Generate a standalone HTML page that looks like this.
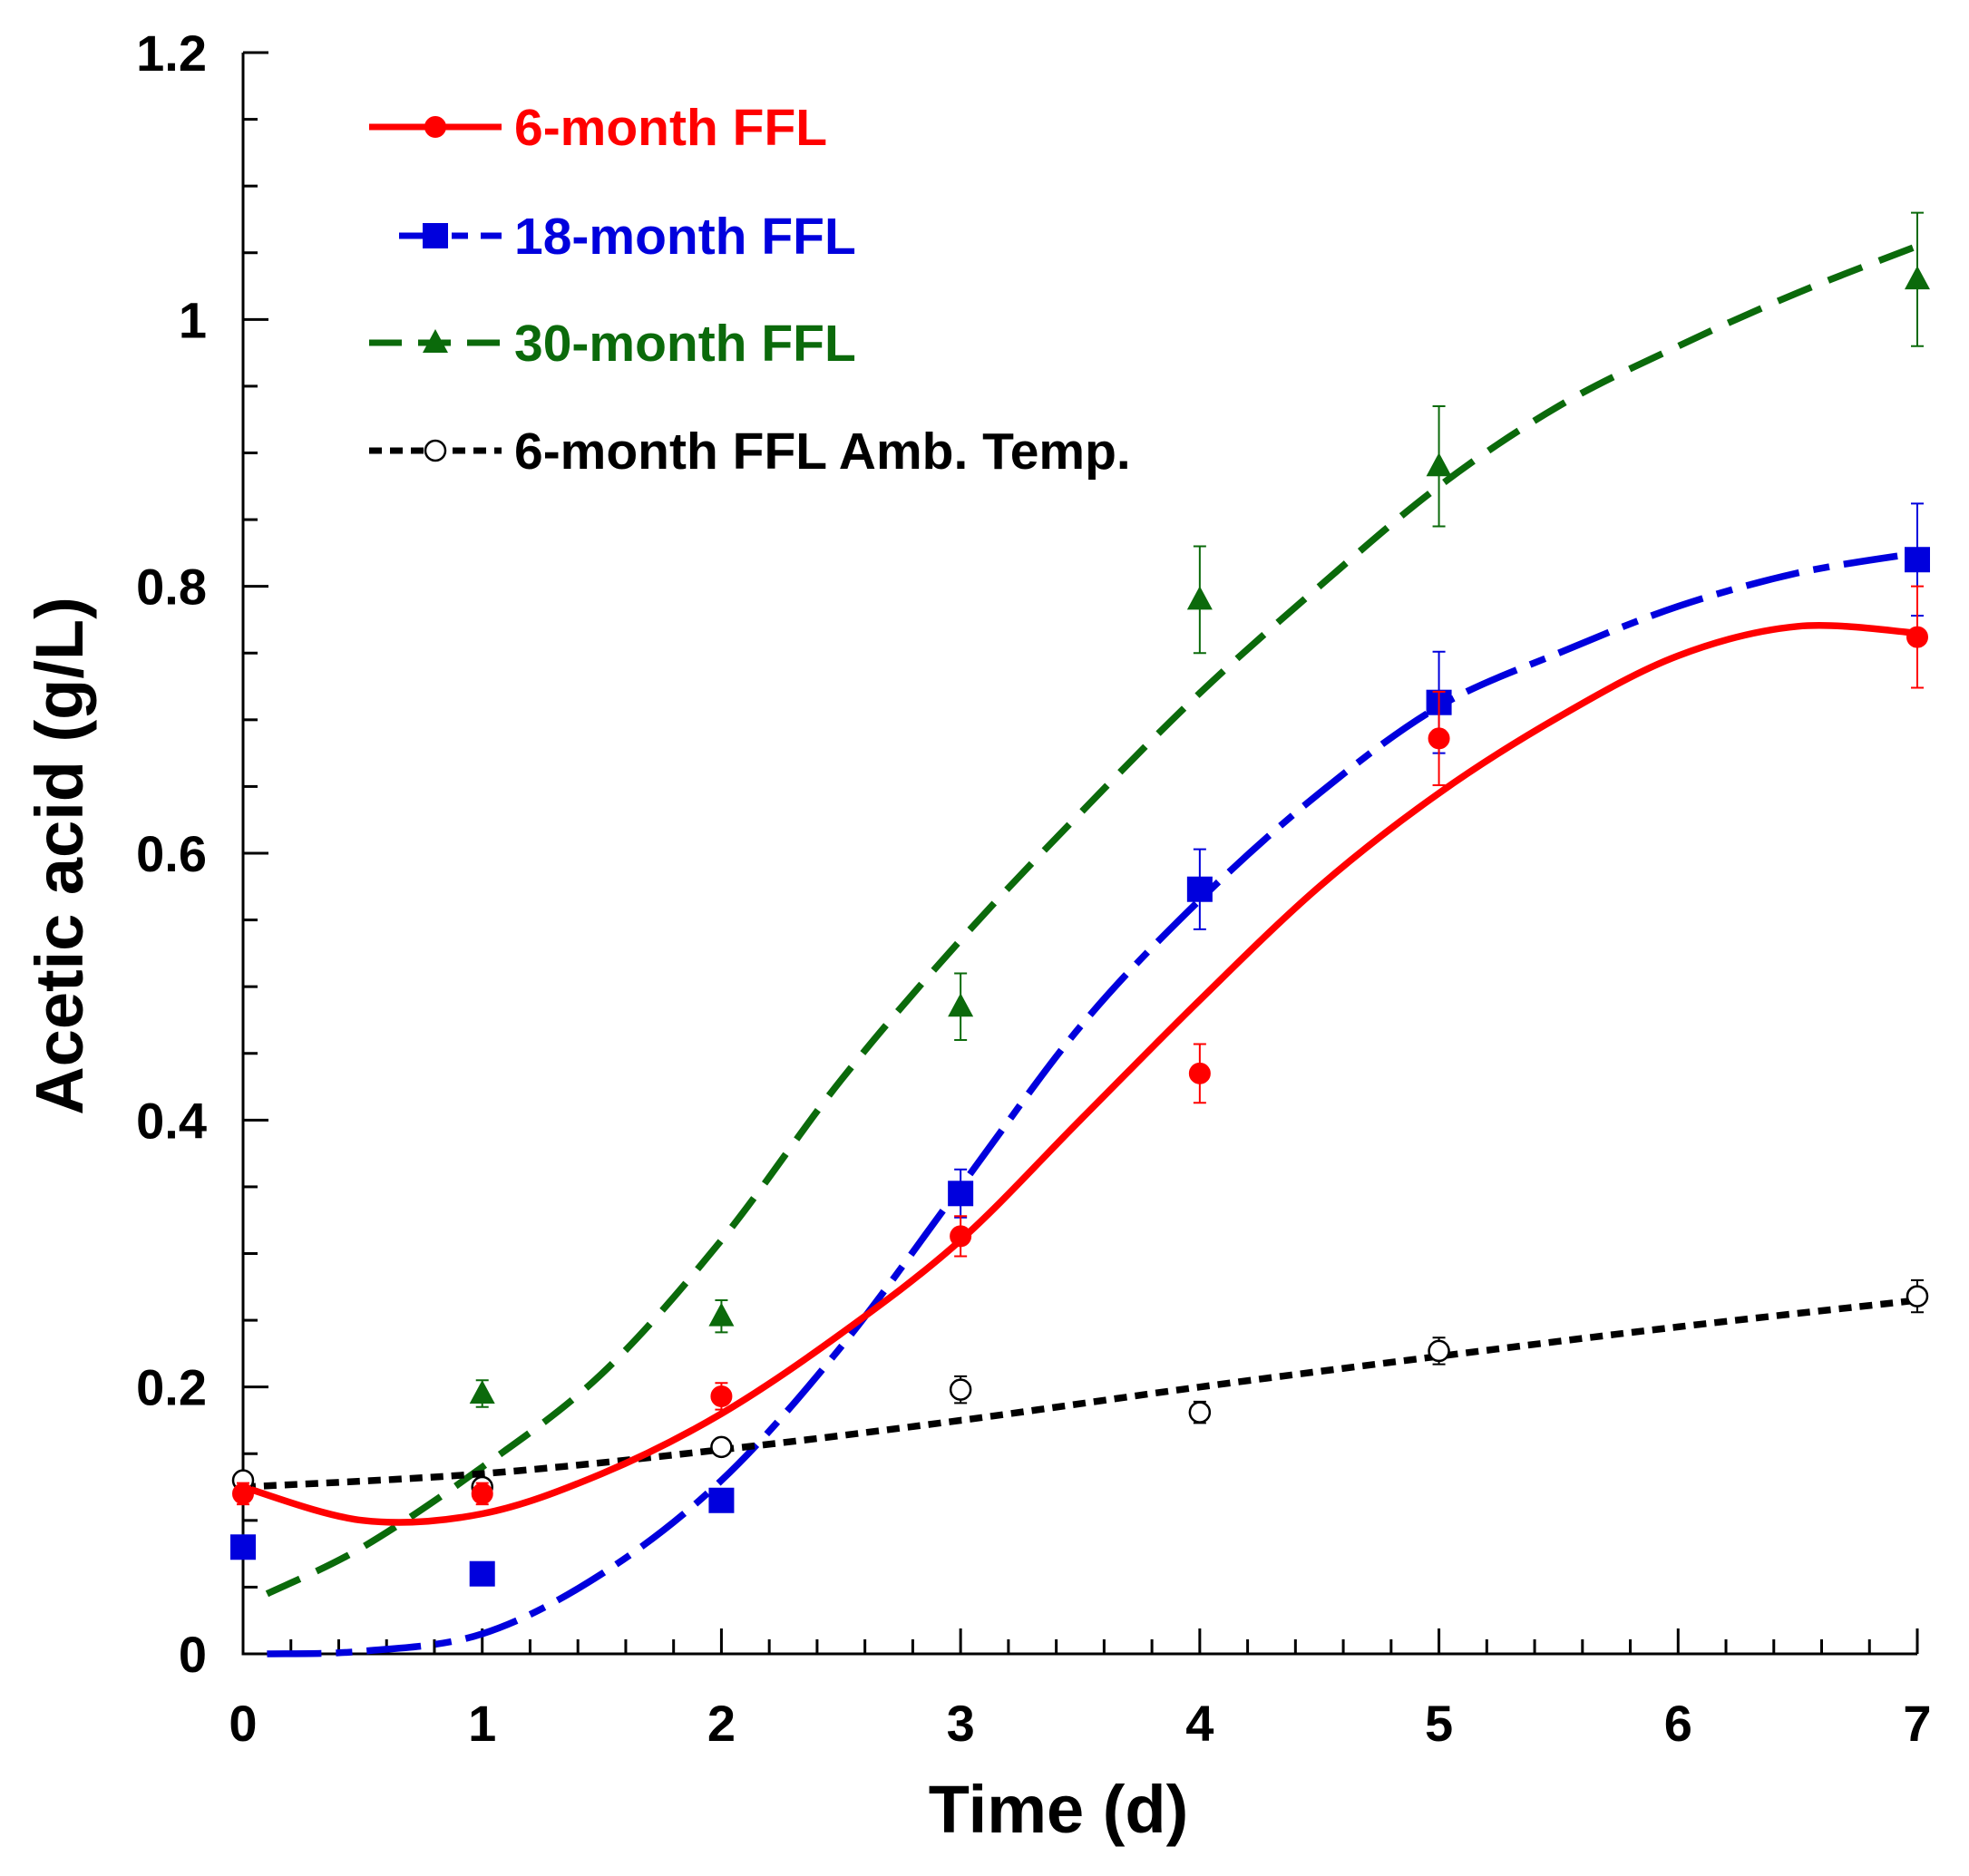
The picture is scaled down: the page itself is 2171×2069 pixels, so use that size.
<!DOCTYPE html>
<html><head><meta charset="utf-8"><style>
html,body{margin:0;padding:0;background:#fff}
svg{display:block;font-family:"Liberation Sans",Arial,sans-serif;font-weight:bold}
</style></head><body>
<svg id="chart" width="2171" height="2069" viewBox="0 0 2171 2069">
<g id="axes"></g><g id="series"></g><g id="legend"></g>
</svg>
<script>
const days = [0,1,2,3,4,5,7];
const m6 = [0.12,0.12,0.193,0.313,0.435,0.686,0.762];
const m6Err = [0.008,0.008,0.01,0.015,0.022,0.035,0.038];
const m18 = [0.08,0.06,0.115,0.345,0.573,0.713,0.82];
const m18Err = [0,0,0,0.018,0.03,0.038,0.042];
const m30 = [0.08,0.195,0.253,0.485,0.79,0.89,1.03];
const m30Err = [0,0.01,0.012,0.025,0.04,0.045,0.05];
const amb = [0.13,0.125,0.155,0.198,0.181,0.227,0.268];
const ambErr = [0.006,0.006,0.006,0.01,0.008,0.01,0.012];
const fitXRed = [0,0.5,1,1.5,2,2.5,3,3.5,4,4.5,5,5.5,6,6.5,7];
const fitRed = [0.125,0.1,0.105,0.135,0.18,0.24,0.31,0.4,0.49,0.575,0.645,0.702,0.748,0.77,0.765];
const fitXBlue = [0.1,0.5,1,1.5,2,2.5,3,3.5,4,4.5,5,5.5,6,6.5,7];
const fitBlue = [0,0.002,0.015,0.06,0.13,0.23,0.35,0.47,0.565,0.645,0.71,0.75,0.785,0.81,0.825];
const fitXGreen = [0.1,0.5,1,1.5,2,2.5,3,3.5,4,4.5,5,5.5,6,6.5,7];
const fitGreen = [0.045,0.08,0.14,0.21,0.31,0.43,0.535,0.63,0.72,0.8,0.875,0.935,0.98,1.02,1.055];
const fitXBlack = [0,1,2,3,4,5,6,7];
const fitBlack = [0.125,0.135,0.153,0.175,0.2,0.223,0.245,0.265];
const xTicks = [0,1,2,3,4,5,6,7];
const yTicks = [0,0.2,0.4,0.6,0.8,1,1.2];
const yTickLabels = ["0","0.2","0.4","0.6","0.8","1","1.2"];

const NS="http://www.w3.org/2000/svg";
const X0=268,X1=2114,Y0=1824,Y1=58;
const sx=v=>X0+(X1-X0)*v/7, sy=v=>Y0-(Y0-Y1)*v/1.2;
function mk(tag,attrs,parent){const e=document.createElementNS(NS,tag);for(const k in attrs)e.setAttribute(k,attrs[k]);parent.appendChild(e);return e;}
const axes=document.getElementById('axes'),ser=document.getElementById('series'),leg=document.getElementById('legend');

let a=mk('path',{d:`M${X0} ${Y1}V${Y0}H${X1}`,fill:'none',stroke:'#000','stroke-width':3},axes);


for(let i=0;i<=24;i++){const v=i*0.05,y=sy(v),len=(i%4===0)?28:16;
 const t=mk('line',{x1:X0,x2:X0+len,y1:y,y2:y,stroke:'#000','stroke-width':3},axes);
 
 }
for(let i=0;i<=35;i++){const v=i*0.2,x=sx(v),len=(i%5===0)?28:16;
 const t=mk('line',{x1:x,x2:x,y1:Y0,y2:Y0-len,stroke:'#000','stroke-width':3},axes);
 
 }
yTicks.forEach((v,i)=>{const t=mk('text',{x:228,y:sy(v)+20,'text-anchor':'end','font-size':56},axes);t.textContent=yTickLabels[i];
 
 });
xTicks.forEach(v=>{const t=mk('text',{x:sx(v),y:1920,'text-anchor':'middle','font-size':56},axes);t.textContent=v;
 
 });
let xt=mk('text',{x:1167,y:2021,'text-anchor':'middle','font-size':74},axes);xt.textContent='Time (d)';


let yt=mk('text',{x:0,y:0,'text-anchor':'middle','font-size':74,transform:'translate(91,944) rotate(-90)'},axes);yt.textContent='Acetic acid (g/L)';



function curve(xs,ys,color,dash,name){
 const P=xs.map((x,i)=>[sx(x),sy(ys[i])]);
 let d=`M${P[0][0].toFixed(1)} ${P[0][1].toFixed(1)}`;
 for(let i=0;i<P.length-1;i++){
  const p0=P[Math.max(0,i-1)],p1=P[i],p2=P[i+1],p3=P[Math.min(P.length-1,i+2)];
  const c1=[p1[0]+(p2[0]-p0[0])/6,p1[1]+(p2[1]-p0[1])/6];
  const c2=[p2[0]-(p3[0]-p1[0])/6,p2[1]-(p3[1]-p1[1])/6];
  d+=`C${c1[0].toFixed(1)} ${c1[1].toFixed(1)} ${c2[0].toFixed(1)} ${c2[1].toFixed(1)} ${p2[0].toFixed(1)} ${p2[1].toFixed(1)}`;
 }
 const p=mk('path',{d,fill:'none',stroke:color,'stroke-width':7.5,'stroke-dasharray':dash,'stroke-linejoin':'round'},ser);
 
 
}
function marker(type,x,y,color,g){
 let e;
 if(type==='circle')e=mk('circle',{cx:x,cy:y,r:11,fill:color,stroke:color,'stroke-width':2},g);
 else if(type==='open')e=mk('circle',{cx:x,cy:y,r:11,fill:'#fff',stroke:'#000','stroke-width':2.5},g);
 else if(type==='square')e=mk('rect',{x:x-14,y:y-14,width:28,height:28,fill:color},g);
 else e=mk('path',{d:`M${x} ${y-15}L${x+14} ${y+11}L${x-14} ${y+11}Z`,fill:color},g);
 return e;
}
function points(vals,errs,color,type,name){
 vals.forEach((v,i)=>{const x=sx(days[i]),y=sy(v);
  if(errs[i]>0){const y1=sy(v+errs[i]),y2=sy(v-errs[i]);
   const eb=mk('path',{d:`M${x} ${y1}V${y2}M${x-7} ${y1}H${x+7}M${x-7} ${y2}H${x+7}`,stroke:type==='open'?'#000':color,'stroke-width':2,fill:'none'},ser);
   
   }
  const m=marker(type,x,y,color,ser);
  
  });
}
curve(fitXGreen,fitGreen,'#0b6a0b','40 20','30-month-fit-line');
curve(fitXBlue,fitBlue,'#0000dd','60 16 18 16','18-month-fit-line');
curve(fitXBlack,fitBlack,'#000','14 9','amb-temp-fit-line');
curve(fitXRed,fitRed,'#ff0000','none','6-month-fit-line');
points(m30,m30Err,'#0b6a0b','tri','30-month');
points(m18,m18Err,'#0000dd','square','18-month');
points(amb,ambErr,'#000','open','amb-temp');
points(m6,m6Err,'#ff0000','circle','6-month');

const legRows=[['6-month FFL','#ff0000','none','circle',140],['18-month FFL','#0000dd','44 14 18 14','square',260],['30-month FFL','#0b6a0b','36 18','tri',378],['6-month FFL Amb. Temp.','#000','14 9','open',497]];
legRows.forEach(r=>{
 const g=mk('g',{},leg);
 
 
 const x1=r[3]==='square'?440:407;
 mk('line',{x1:x1,x2:553,y1:r[4],y2:r[4],stroke:r[1],'stroke-width':7,'stroke-dasharray':r[2]},g);
 marker(r[3],480,r[4],r[1],g);
 const t=mk('text',{x:567,y:r[4]+20,'font-size':57,fill:r[1]},g);t.textContent=r[0];
});
</script>
</body></html>
